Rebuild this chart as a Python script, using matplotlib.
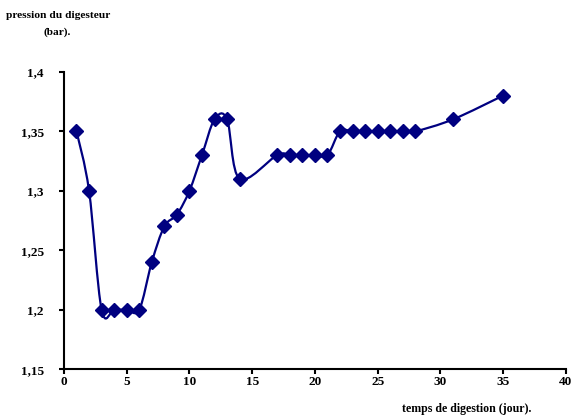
import numpy as np
import matplotlib.pyplot as plt
from matplotlib.path import Path
from matplotlib.patches import PathPatch

plt.rcParams['font.family'] = 'Liberation Serif'
plt.rcParams['font.weight'] = 'bold'

# temps (jour) et pression (bar)
jours = [1, 2, 3, 4, 5, 6, 7, 8, 9, 10, 11, 12, 13, 14,
         17, 18, 19, 20, 21, 22, 23, 24, 25, 26, 27, 28, 31, 35]
pression = [1.35, 1.30, 1.20, 1.20, 1.20, 1.20, 1.24, 1.27, 1.28, 1.30, 1.33, 1.36, 1.36, 1.31,
            1.33, 1.33, 1.33, 1.33, 1.33, 1.35, 1.35, 1.35, 1.35, 1.35, 1.35, 1.35, 1.36, 1.38]

xticks = [0, 5, 10, 15, 20, 25, 30, 35, 40]
yticks = [1.15, 1.2, 1.25, 1.3, 1.35, 1.4]
ytick_labels = ['1,15', '1,2', '1,25', '1,3', '1,35', '1,4']

color = '#000080'


def smooth_path(x, y, t=1/6.):
    # courbe lissée type tableur (Bezier Catmull-Rom)
    pts = np.column_stack([x, y]).astype(float)
    n = len(pts)
    verts = [pts[0]]
    codes = [Path.MOVETO]
    for i in range(n - 1):
        p0 = pts[i - 1] if i > 0 else pts[i]
        p1 = pts[i]
        p2 = pts[i + 1]
        p3 = pts[i + 2] if i + 2 < n else pts[i + 1]
        c1 = p1 + (p2 - p0) * t
        c2 = p2 - (p3 - p1) * t
        verts += [c1, c2, p2]
        codes += [Path.CURVE4] * 3
    return Path(verts, codes)


fig = plt.figure(figsize=(5.71, 4.20), dpi=100)
ax = fig.add_axes([0.112, 0.121, 0.879, 0.708])

ax.add_patch(PathPatch(smooth_path(jours, pression), fill=False, edgecolor=color, lw=1.6, zorder=2))
ax.plot(jours, pression, linestyle='none', marker='D', markersize=7.3, color=color, zorder=3)

ax.set_xlim(0, 40)
ax.set_ylim(1.15, 1.4)
ax.set_xticks(xticks)
ax.set_yticks(yticks)
ax.set_yticklabels(ytick_labels)

for s in ['top', 'right']:
    ax.spines[s].set_visible(False)
for s in ['left', 'bottom']:
    ax.spines[s].set_linewidth(1.5)
ax.tick_params(axis='both', direction='out', length=3.5, width=1.5, labelsize=9.5)
ax.tick_params(axis='x', pad=1.5)
ax.tick_params(axis='y', pad=11)

fig.text(0.101, 0.962, 'pression du digesteur', ha='center', va='center',
         fontsize=8.2, fontweight='bold')
fig.text(0.101, 0.924, '(bar).', ha='center', va='center',
         fontsize=8.2, fontweight='bold')
fig.text(0.818, 0.026, 'temps de digestion (jour).', ha='center', va='center',
         fontsize=8.6, fontweight='bold')

fig.savefig('out.png', dpi=100)
